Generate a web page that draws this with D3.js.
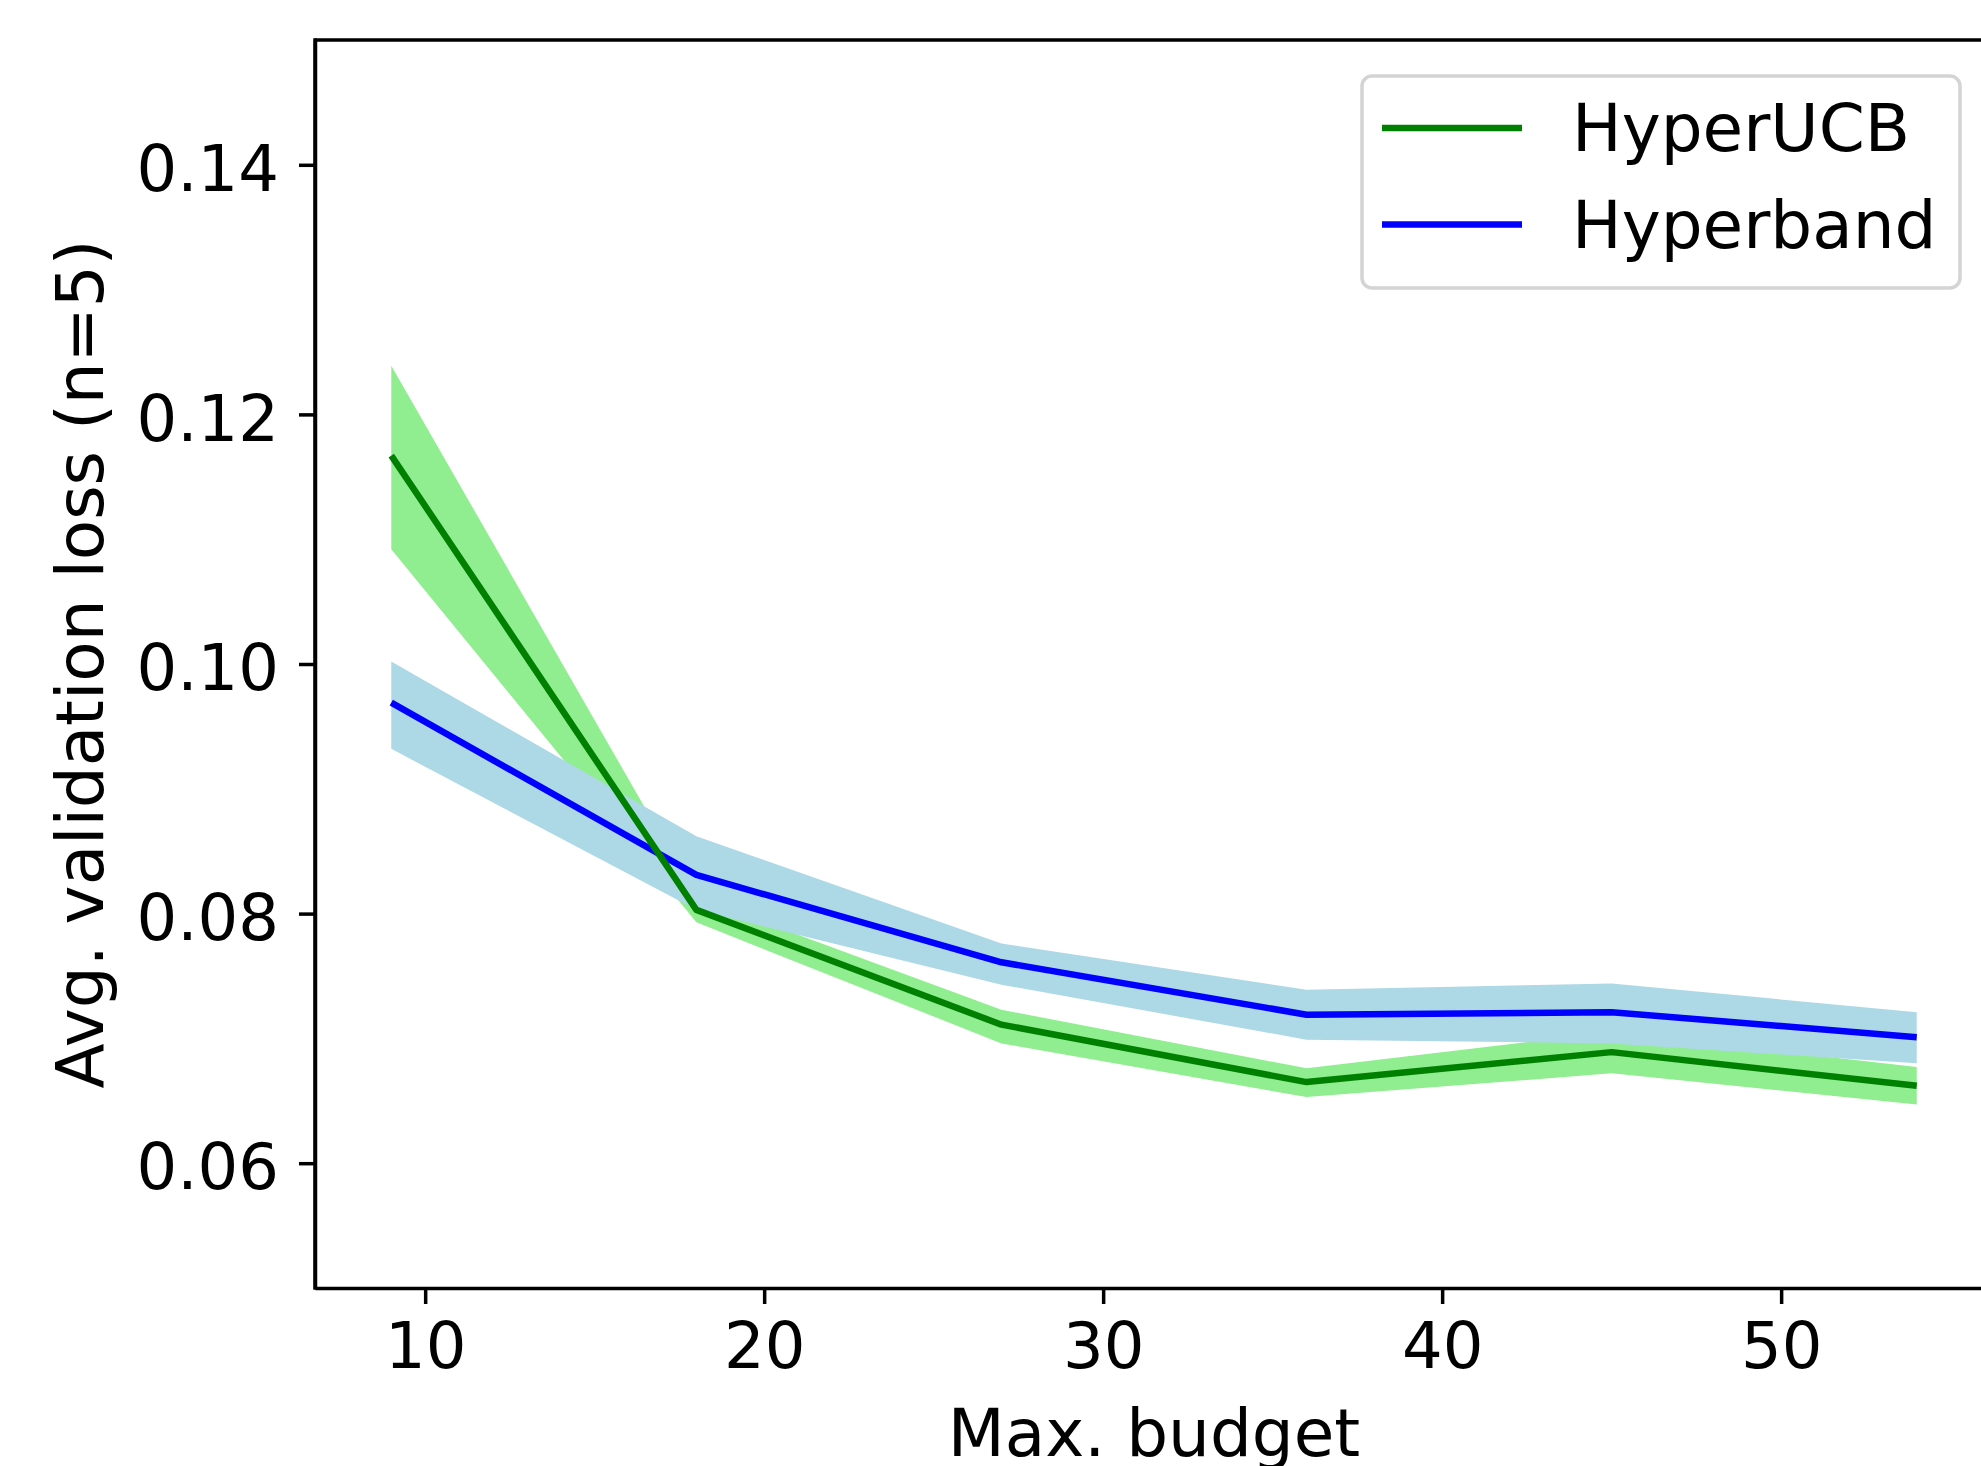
<!DOCTYPE html>
<html>
<head>
<meta charset="utf-8">
<script src="https://cdn.jsdelivr.net/npm/d3@7"></script>
<style>
  body { margin: 0; background: #fff; }
  text { font-family: "DejaVu Sans", sans-serif; fill: #000; }
</style>
</head>
<body>
<div id="root"></div>
<script>
const budgets = [9, 18, 27, 36, 45, 54];

const ucbMean = [0.1167, 0.0803, 0.0711, 0.0665, 0.0689, 0.0662];
const ucbLow  = [0.1092, 0.0793, 0.0696, 0.0653, 0.0672, 0.0647];
const ucbHigh = [0.1239, 0.0813, 0.0723, 0.0676, 0.0705, 0.0677];

const hbMean = [0.0969, 0.0831, 0.0761, 0.0719, 0.0721, 0.0701];
const hbLow  = [0.0932, 0.0803, 0.0743, 0.0699, 0.0696, 0.0680];
const hbHigh = [0.1002, 0.0862, 0.0776, 0.0739, 0.0744, 0.0721];

const xTicks = [10, 20, 30, 40, 50];
const yTicks = [0.06, 0.08, 0.10, 0.12, 0.14];

const W = 1981, H = 1466;
const plot = {left: 315, top: 40, right: 1993, bottom: 1288};
const tickFont = 64, labelFont = 66;

const svg = d3.select("#root").append("svg")
    .attr("width", W)
    .attr("height", H);

const x = d3.scaleLinear().domain([6.75, 56.25]).range([plot.left, plot.right]);
const y = d3.scaleLinear().domain([0.05, 0.15]).range([plot.bottom, plot.top]);

const series = [
  {name: "HyperUCB", mean: ucbMean, low: ucbLow, high: ucbHigh, line: "green", band: "lightgreen"},
  {name: "Hyperband", mean: hbMean, low: hbLow, high: hbHigh, line: "blue", band: "lightblue"}
];

const area = d3.area()
    .x(d => x(d.b))
    .y0(d => y(d.lo))
    .y1(d => y(d.hi));

const line = d3.line()
    .x(d => x(d.b))
    .y(d => y(d.m));

function rows(s) {
  return budgets.map((b, i) => ({b: b, m: s.mean[i], lo: s.low[i], hi: s.high[i]}));
}

// bands below, lines above (like matplotlib zorder)
series.forEach(s => {
  svg.append("path")
    .attr("d", area(rows(s)))
    .attr("fill", s.band);
});
[series[1], series[0]].forEach(s => {
  svg.append("path")
    .attr("d", line(rows(s)))
    .attr("fill", "none")
    .attr("stroke", s.line)
    .attr("stroke-width", 6.5)
    .attr("stroke-linejoin", "round");
});

// axes
const xAxis = d3.axisBottom(x)
    .tickValues(xTicks)
    .tickSize(16)
    .tickSizeOuter(0)
    .tickPadding(19)
    .tickFormat(d3.format("d"));

const yAxis = d3.axisLeft(y)
    .tickValues(yTicks)
    .tickSize(16)
    .tickSizeOuter(0)
    .tickPadding(20)
    .tickFormat(d3.format(".2f"));

const gx = svg.append("g")
    .attr("transform", "translate(0," + plot.bottom + ")")
    .call(xAxis);

const gy = svg.append("g")
    .attr("transform", "translate(" + plot.left + ",0)")
    .call(yAxis);

[gx, gy].forEach(g => {
  g.select(".domain").attr("stroke", "#000").attr("stroke-width", 3.5);
  g.selectAll(".tick line").attr("stroke", "#000").attr("stroke-width", 3.5);
  g.selectAll(".tick text")
    .attr("font-family", "DejaVu Sans")
    .attr("font-size", tickFont)
    .attr("fill", "#000");
});
gy.selectAll(".tick text").attr("dy", "0.4em");

// top and right spines
svg.append("line")
    .attr("x1", plot.left).attr("x2", plot.right)
    .attr("y1", plot.top).attr("y2", plot.top)
    .attr("stroke", "#000").attr("stroke-width", 3.5);
svg.append("line")
    .attr("x1", plot.right).attr("x2", plot.right)
    .attr("y1", plot.top).attr("y2", plot.bottom)
    .attr("stroke", "#000").attr("stroke-width", 3.5);
svg.append("path")
    .attr("d", `M${plot.left},${plot.top - 1.75}V${plot.bottom + 1.75}`)
    .attr("stroke", "#000").attr("stroke-width", 3.5);

// axis labels
svg.append("text")
    .attr("x", (plot.left + plot.right) / 2)
    .attr("y", 1456)
    .attr("text-anchor", "middle")
    .attr("font-size", labelFont)
    .text("Max. budget");

svg.append("text")
    .attr("transform", "translate(103," + (plot.top + plot.bottom) / 2 + ") rotate(-90)")
    .attr("text-anchor", "middle")
    .attr("font-size", labelFont)
    .text("Avg. validation loss (n=5)");

// legend
const legend = svg.append("g");
legend.append("rect")
    .attr("x", 1362).attr("y", 76)
    .attr("width", 598).attr("height", 212)
    .attr("rx", 10)
    .attr("fill", "#fff")
    .attr("fill-opacity", 0.8)
    .attr("stroke", "#d4d4d4")
    .attr("stroke-width", 3.5);

const item = legend.selectAll(".item")
    .data(series)
    .enter().append("g")
    .attr("class", "item")
    .attr("transform", (d, i) => "translate(0," + (128 + i * 96.5) + ")");

item.append("line")
    .attr("x1", 1382).attr("x2", 1522)
    .attr("y1", 0).attr("y2", 0)
    .attr("stroke", d => d.line)
    .attr("stroke-width", 6.5);

item.append("text")
    .attr("x", 1572)
    .attr("y", 23)
    .attr("font-size", labelFont)
    .text(d => d.name);
</script>
</body>
</html>
